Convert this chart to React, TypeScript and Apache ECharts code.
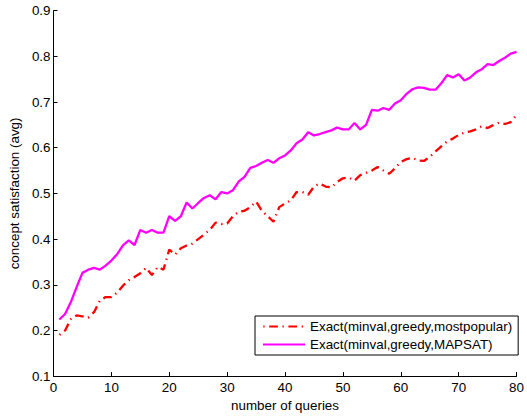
import React, { useEffect, useRef } from "react";
import * as echarts from "echarts";

const queries = [
  1, 2, 3, 4, 5, 6, 7, 8, 9, 10, 11, 12, 13, 14, 15, 16, 17, 18, 19, 20,
  21, 22, 23, 24, 25, 26, 27, 28, 29, 30, 31, 32, 33, 34, 35, 36, 37, 38, 39, 40,
  41, 42, 43, 44, 45, 46, 47, 48, 49, 50, 51, 52, 53, 54, 55, 56, 57, 58, 59, 60,
  61, 62, 63, 64, 65, 66, 67, 68, 69, 70, 71, 72, 73, 74, 75, 76, 77, 78, 79, 80,
];

const mostPopular = [
  0.19, 0.2, 0.225, 0.233, 0.231, 0.228, 0.24, 0.265, 0.273, 0.273,
  0.283, 0.298, 0.31, 0.317, 0.325, 0.337, 0.321, 0.339, 0.333, 0.377,
  0.366, 0.38, 0.386, 0.39, 0.4, 0.41, 0.42, 0.436, 0.433, 0.434,
  0.45, 0.46, 0.462, 0.47, 0.482, 0.462, 0.45, 0.438, 0.47, 0.478,
  0.485, 0.503, 0.503, 0.497, 0.515, 0.522, 0.515, 0.513, 0.525, 0.533,
  0.535, 0.528, 0.54, 0.545, 0.55, 0.558, 0.55, 0.543, 0.555, 0.569,
  0.575, 0.578, 0.572, 0.571, 0.58, 0.592, 0.603, 0.614, 0.62, 0.628,
  0.633, 0.636, 0.64, 0.647, 0.643, 0.65, 0.655, 0.652, 0.656, 0.672,
];

const mapsat = [
  0.224, 0.236, 0.262, 0.295, 0.326, 0.333, 0.337, 0.333, 0.342, 0.353,
  0.367, 0.386, 0.397, 0.387, 0.42, 0.414, 0.42, 0.414, 0.414, 0.45,
  0.44, 0.45, 0.48, 0.467, 0.479, 0.49, 0.496, 0.487, 0.503, 0.5,
  0.507, 0.526, 0.536, 0.556, 0.56, 0.567, 0.573, 0.567, 0.577, 0.583,
  0.594, 0.61, 0.618, 0.634, 0.627, 0.63, 0.634, 0.638, 0.644, 0.64,
  0.64, 0.654, 0.64, 0.65, 0.683, 0.681, 0.687, 0.683, 0.697, 0.704,
  0.718, 0.728, 0.732, 0.731, 0.727, 0.727, 0.741, 0.759, 0.754, 0.761,
  0.747, 0.754, 0.765, 0.772, 0.783, 0.781, 0.79, 0.797, 0.806, 0.81,
];

const seriesNames = [
  "Exact(minval,greedy,mostpopular)",
  "Exact(minval,greedy,MAPSAT)",
];

const xAxisName = "number of queries";
const yAxisName = "concept satisfaction (avg)";

const FONT = "'Liberation Sans', Arial, Helvetica, sans-serif";

export default function App() {
  const ref = useRef<HTMLDivElement>(null);

  useEffect(() => {
    if (!ref.current) return;
    const chart = echarts.init(ref.current, undefined, { renderer: "svg" });
    const axisText = { color: "#000", fontFamily: FONT, fontSize: 13.4 };
    chart.setOption({
      animation: false,
      backgroundColor: "#fff",
      grid: { left: 52.3, right: 6, top: 10.7, bottom: 37.7, containLabel: false },
      legend: {
        orient: "vertical",
        left: 255,
        top: 316,
        width: 261,
        padding: [4, 6, 4, 7],
        itemWidth: 42,
        itemHeight: 14,
        itemGap: 5,
        borderColor: "#000",
        borderWidth: 1,
        backgroundColor: "#fff",
        itemStyle: { opacity: 0 },
        textStyle: { color: "#000", fontFamily: FONT, fontSize: 13.4, padding: [0, 0, 0, 0] },
        data: seriesNames,
      },
      xAxis: {
        type: "value",
        min: 0,
        max: 80,
        interval: 10,
        name: xAxisName,
        nameLocation: "middle",
        nameGap: 19,
        nameTextStyle: axisText,
        axisLine: { show: true, onZero: false, lineStyle: { color: "#000", width: 1 } },
        axisTick: { show: true, inside: true, length: 4, lineStyle: { color: "#000" } },
        axisLabel: { ...axisText, margin: 5 },
        splitLine: { show: false },
      },
      yAxis: {
        type: "value",
        min: 0.1,
        max: 0.9,
        interval: 0.1,
        name: yAxisName,
        nameLocation: "middle",
        nameGap: 28,
        nameTextStyle: axisText,
        axisLine: { show: true, onZero: false, lineStyle: { color: "#000", width: 1 } },
        axisTick: { show: true, inside: true, length: 4, lineStyle: { color: "#000" } },
        axisLabel: {
          ...axisText,
          margin: 3,
          formatter: (v: number) => v.toFixed(1),
        },
        splitLine: { show: false },
      },
      series: [
        {
          name: seriesNames[0],
          type: "line",
          symbol: "none",
          data: queries.map((q, i) => [q, mostPopular[i]]),
          lineStyle: {
            color: "#ff0000",
            width: 2.3,
            type: [8.7, 4.6, 1.3, 4.6],
            dashOffset: 13.3,
          },
          itemStyle: { color: "#ff0000" },
          z: 3,
        },
        {
          name: seriesNames[1],
          type: "line",
          symbol: "none",
          data: queries.map((q, i) => [q, mapsat[i]]),
          lineStyle: { color: "#ff00ff", width: 2.3 },
          itemStyle: { color: "#ff00ff" },
          z: 2,
        },
      ],
    });
    return () => chart.dispose();
  }, []);

  return (
    <div
      ref={ref}
      style={{ position: "fixed", left: 0, top: 0, width: 527, height: 417 }}
    />
  );
}
